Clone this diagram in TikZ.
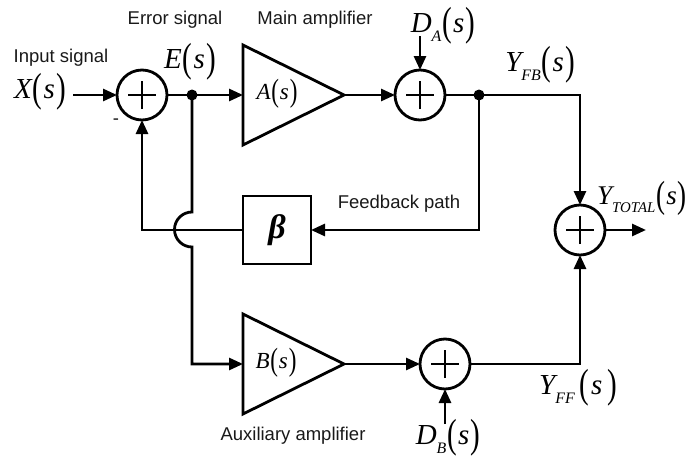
\documentclass[tikz,border=0pt]{standalone}
\usepackage{fontspec}
\usepackage{graphicx}
\setmainfont{Liberation Sans}
\newfontfamily\serifit{Liberation Serif}[ItalicFont=* Italic,BoldItalicFont=* Bold Italic]
\usetikzlibrary{shapes.geometric,arrows.meta}
\newcommand{\pL}{\raisebox{-0.1em}{\scalebox{1}[1.4]{\upshape(}}}
\newcommand{\pR}{\raisebox{-0.1em}{\scalebox{1}[1.4]{\upshape)}}}
\newcommand{\sgn}[3]{{\fontsize{#3}{#3}\selectfont\serifit\itshape #1\raisebox{-0.3em}{\fontsize{0.55em}{0.55em}\selectfont #2}\kern0.03em\pL\kern0.04em s\kern0.04em\pR}}
\tikzset{
  x=1pt,y=-1pt,
  wire/.style={line width=2.8pt,line cap=butt,line join=miter},
  arr/.style={wire,-{Triangle[length=14pt,width=12pt]}},
  sumnode/.style={circle,draw,line width=2.8pt,minimum size=50pt,inner sep=0pt,outer sep=0pt,
    path picture={\draw[line width=2.2pt]
      ([xshift=-14pt]path picture bounding box.center)--([xshift=14pt]path picture bounding box.center)
      ([yshift=-14pt]path picture bounding box.center)--([yshift=14pt]path picture bounding box.center);}},
  amp/.style={isosceles triangle,isosceles triangle apex angle=52.7,isosceles triangle stretches,draw,line width=2.8pt,
    minimum width=100pt,minimum height=101pt,inner sep=0pt,outer sep=0pt,anchor=lower side},
  junction/.style={circle,fill=black,minimum size=11pt,inner sep=0pt},
  lbl/.style={font=\fontsize{18.5}{20}\selectfont,inner sep=0pt,text=black!90},
  sig/.style={inner sep=0pt}
}
\begin{document}
\begin{tikzpicture}
\useasboundingbox (0,0) rectangle (686,458);
\node[sumnode] (s1) at (142,95) {};
\node[sumnode] (s2) at (420,95) {};
\node[sumnode] (s3) at (580,230) {};
\node[sumnode] (s4) at (445,364) {};
\node[amp] (A) at (243,95) {};
\node[amp] (B) at (243,364) {};
\node[draw,line width=2.8pt,minimum width=68pt,minimum height=68pt,inner sep=0pt,outer sep=0pt,font=\fontsize{34}{34}\selectfont\serifit\bfseries\itshape] (beta) at (277,230) {β};
\node[junction] (j1) at (192,95) {};
\node[junction] (j2) at (479,95) {};
\coordinate (in) at (73,95);
\coordinate (out) at (646,230);
\coordinate (da) at (420,36);
\coordinate (db) at (445,424);
\coordinate (hopt) at (192,212);
\coordinate (hopb) at (192,247);
\coordinate (corner) at (142,230);
\coordinate (rc) at (580,95);
\coordinate (fbc) at (479,230);
\coordinate (ffc) at (580,364);
% connectors
\draw[arr] (in) -- (s1.west);
\draw[wire] (s1.east) -- (j1.center);
\draw[arr] (j1.center) -- (A.lower side);
\draw[arr] (A.apex) -- (s2.west);
\draw[arr] (da) -- (s2.north);
\draw[wire] (s2.east) -- (j2.center);
\draw[arr] (j2.center) -- (rc) -- (s3.north);
\draw[arr] (j2.center) -- (fbc) -- (beta.east);
\draw[arr] (beta.west) -- (corner) -- (s1.south);
\draw[arr] (j1.center) -- (hopt) arc[start angle=90,end angle=270,radius=17.5pt] -- (hopb) |- (B.lower side);
\draw[arr] (B.apex) -- (s4.west);
\draw[arr] (db) -- (s4.south);
\draw[arr] (s4.east) -- (ffc) -- (s3.south);
\draw[arr] (s3.east) -- (out);
% labels
\node[lbl] (t1) at (61,58) {Input signal};
\node[lbl] (t2) at (175,20) {Error signal};
\node[lbl] (t3) at (315,20) {Main amplifier};
\node[lbl] (t4) at (399,204) {Feedback path};
\node[lbl] (t5) at (293,436) {Auxiliary amplifier};
\node[lbl] (t6) at (116,122) {-};
\node[sig] (x) at (40,92) {\sgn{X}{}{29}};
\node[sig] (e) at (190,62) {\sgn{E}{}{29}};
\node[sig] (as) at (277,94) {\sgn{A}{}{23}};
\node[sig] (bs) at (276,363) {\sgn{B}{}{23}};
\node[sig] (dA) at (443,26) {\sgn{D}{A}{29}};
\node[sig] (dB) at (448,438) {\sgn{D}{B}{29}};
\node[sig] (yfb) at (540,65) {\sgn{Y}{FB}{29}};
\node[sig] (yt) at (642,198) {\sgn{Y}{TOTAL}{27}};
\node[sig] (yff) at (578,388) {{\fontsize{29}{29}\selectfont\serifit\itshape Y\raisebox{-0.3em}{\fontsize{0.55em}{0.55em}\selectfont FF}\,\pL\kern0.06em s\,\pR}};
\end{tikzpicture}
\end{document}
